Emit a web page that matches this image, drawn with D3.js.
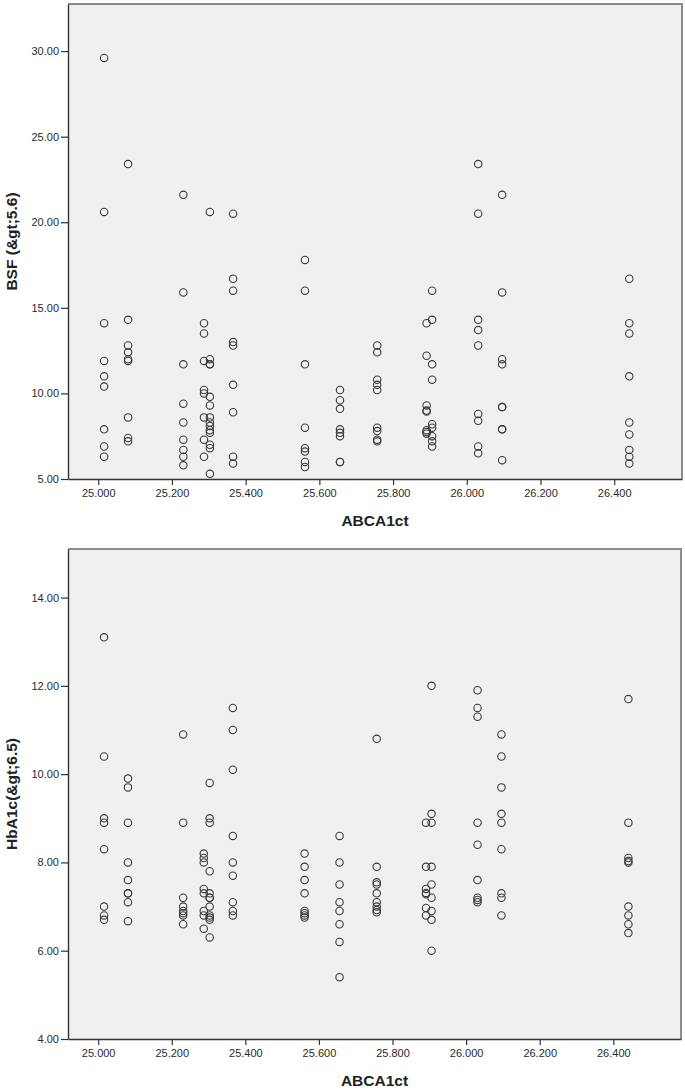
<!DOCTYPE html>
<html>
<head>
<meta charset="utf-8">
<script src="https://cdn.jsdelivr.net/npm/d3@7"></script>
<style>
  body { margin: 0; background: #fff; }
  svg { display: block; font-family: "Liberation Sans", Arial, sans-serif; }
</style>
</head>
<body>
<div id="chart"></div>
<script>
// ABCA1ct levels (one column of points per level)
const abcaLevels = [25.016, 25.081, 25.231, 25.287, 25.303, 25.366, 25.561,
                    25.656, 25.757, 25.891, 25.906, 26.031, 26.096, 26.441];

// BSF values at each ABCA1ct level
const bsfValues = [
  [29.6, 20.6, 14.1, 11.9, 11.0, 10.4, 7.9, 6.9, 6.3],
  [23.4, 14.3, 12.8, 12.4, 12.0, 11.9, 8.6, 7.4, 7.2],
  [21.6, 15.9, 11.7, 9.4, 8.3, 7.3, 6.7, 6.3, 5.8],
  [14.1, 13.5, 11.9, 10.2, 10.0, 8.6, 7.3, 6.3],
  [20.6, 12.0, 11.7, 11.7, 9.8, 9.3, 8.6, 8.3, 8.1, 7.85, 7.7, 7.0, 6.8, 5.3],
  [20.5, 16.7, 16.0, 13.0, 12.8, 10.5, 8.9, 6.3, 5.9],
  [17.8, 16.0, 11.7, 8.0, 6.8, 6.6, 6.0, 5.7],
  [10.2, 9.6, 9.1, 7.9, 7.7, 7.5, 6.0, 6.0],
  [12.8, 12.4, 10.8, 10.5, 10.2, 8.0, 7.8, 7.3, 7.2],
  [14.1, 12.2, 9.3, 9.0, 8.95, 7.85, 7.75, 7.65],
  [16.0, 14.3, 11.7, 10.8, 8.2, 8.0, 7.5, 7.2, 6.9],
  [23.4, 20.5, 14.3, 13.7, 12.8, 8.8, 8.4, 6.9, 6.5],
  [21.6, 15.9, 12.0, 11.7, 9.2, 9.2, 7.9, 7.9, 6.1],
  [16.7, 14.1, 13.5, 11.0, 8.3, 7.6, 6.7, 6.3, 5.9]
];

// HbA1c values at each ABCA1ct level
const hba1cValues = [
  [13.1, 10.4, 9.0, 8.9, 8.3, 7.0, 6.8, 6.7],
  [9.9, 9.7, 8.9, 8.0, 7.6, 7.3, 7.3, 7.1, 6.67],
  [10.9, 8.9, 7.2, 7.0, 6.9, 6.85, 6.8, 6.6],
  [8.2, 8.1, 8.0, 7.4, 7.3, 6.9, 6.8, 6.5],
  [9.8, 9.0, 8.9, 7.8, 7.3, 7.2, 7.2, 7.0, 6.8, 6.75, 6.7, 6.3],
  [11.5, 11.0, 10.1, 8.6, 8.0, 7.7, 7.1, 6.9, 6.8],
  [8.2, 7.9, 7.6, 7.3, 6.9, 6.85, 6.8, 6.75],
  [8.6, 8.0, 7.5, 7.1, 6.9, 6.6, 6.2, 5.4],
  [10.8, 7.9, 7.55, 7.5, 7.3, 7.1, 7.0, 6.92, 6.87],
  [8.9, 7.9, 7.4, 7.31, 7.28, 6.97, 6.8],
  [12.0, 9.1, 8.9, 7.9, 7.5, 7.2, 6.9, 6.7, 6.0],
  [11.9, 11.5, 11.3, 8.9, 8.4, 7.6, 7.2, 7.15, 7.1],
  [10.9, 10.4, 9.7, 9.1, 8.9, 8.3, 7.3, 7.2, 6.8],
  [11.7, 8.9, 8.1, 8.03, 8.0, 7.0, 6.8, 6.6, 6.4]
];

const xTicks = [25.0, 25.2, 25.4, 25.6, 25.8, 26.0, 26.2, 26.4];
const bsfTicks = [5, 10, 15, 20, 25, 30];
const hba1cTicks = [4, 6, 8, 10, 12, 14];

const width = 685, height = 1091;
const svg = d3.select("#chart").append("svg")
  .attr("width", width).attr("height", height);

function scatter(opts) {
  const x = d3.scaleLinear().domain([24.918, 26.584]).range([68, opts.right]);
  const y = d3.scaleLinear().domain(opts.yDomain).range([opts.bottom, opts.top]);
  const g = svg.append("g");

  g.append("rect")
    .attr("x", 68).attr("y", opts.top)
    .attr("width", opts.right - 68).attr("height", opts.bottom - opts.top)
    .style("fill", "#f0f0f0");

  // grey frame on top and right
  g.append("path")
    .attr("d", `M68,${opts.top}H${opts.right}V${opts.bottom}`)
    .style("fill", "none").style("stroke", "#8c8c8c").style("stroke-width", 2);

  const pts = [];
  opts.values.forEach((col, i) => col.forEach(v => pts.push([abcaLevels[i], v])));
  g.selectAll("circle.pt").data(pts).enter().append("circle")
    .attr("class", "pt")
    .attr("cx", d => x(d[0]))
    .attr("cy", d => y(d[1]))
    .attr("r", 3.7)
    .style("fill", "none")
    .style("stroke", "#3a3a3a")
    .style("stroke-width", 1.1);

  const xAxis = g.append("g")
    .attr("transform", `translate(0,${opts.bottom})`)
    .call(d3.axisBottom(x).tickValues(xTicks).tickFormat(d3.format(".3f"))
      .tickSize(6).tickPadding(4).tickSizeOuter(0));
  const yAxis = g.append("g")
    .attr("transform", "translate(68,0)")
    .call(d3.axisLeft(y).tickValues(opts.yTicks).tickFormat(d3.format(".2f"))
      .tickSize(7).tickPadding(2).tickSizeOuter(0));

  [xAxis, yAxis].forEach(a => {
    a.select(".domain").style("stroke", "#333").style("stroke-width", 1.4);
    a.selectAll(".tick line").style("stroke", "#333").style("stroke-width", 1.2);
    a.selectAll(".tick text").style("font-size", "11px").style("fill", "#2a2a2a")
      .style("font-family", "Liberation Sans, Arial, sans-serif");
  });

  g.append("text")
    .attr("x", (68 + opts.right) / 2)
    .attr("y", opts.bottom + 47)
    .attr("text-anchor", "middle")
    .style("font-size", "15.5px").style("font-weight", "bold").style("fill", "#222")
    .text("ABCA1ct");

  g.append("text")
    .attr("transform", `translate(17,${(opts.top + opts.bottom) / 2}) rotate(-90)`)
    .attr("text-anchor", "middle")
    .style("font-size", "15.5px").style("font-weight", "bold").style("fill", "#222")
    .text(opts.yTitle);
}

scatter({ values: bsfValues, yDomain: [5, 32.75], yTicks: bsfTicks,
          top: 4, bottom: 479, right: 682, yTitle: "BSF (&gt;5.6)" });
scatter({ values: hba1cValues, yDomain: [4, 15.1], yTicks: hba1cTicks,
          top: 549, bottom: 1039, right: 681, yTitle: "HbA1c(&gt;6.5)" });
</script>
</body>
</html>
